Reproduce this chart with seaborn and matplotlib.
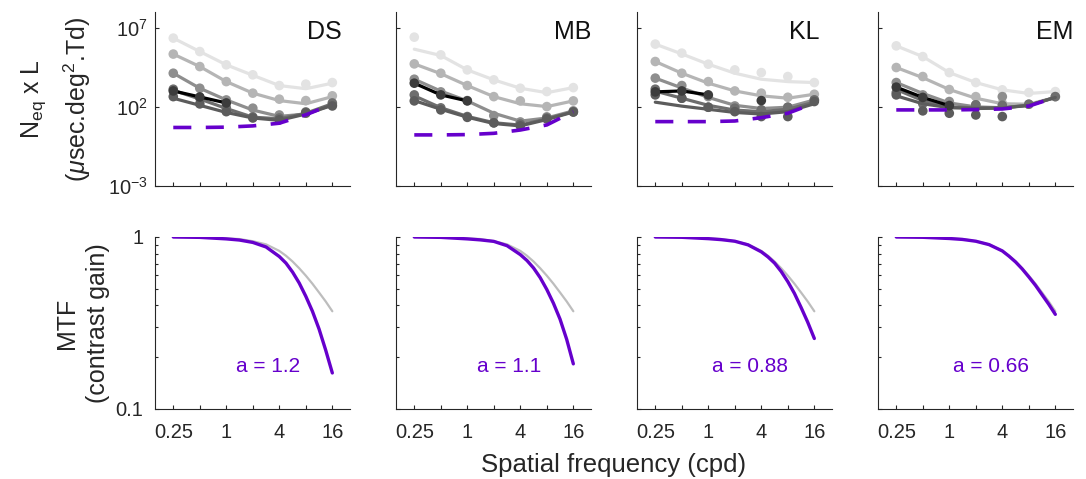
import numpy as np
import matplotlib
matplotlib.use("Agg")
import matplotlib.pyplot as plt
import seaborn as sns
from matplotlib.ticker import FixedLocator, FixedFormatter, NullFormatter, LogLocator, NullLocator

# ---------------- data (log10 of Neq x L) ----------------
subjects = ["DS", "MB", "KL", "EM"]
freqs = [0.25, 0.5, 1, 2, 4, 8, 16]
xtick_labels = ["0.25", "", "1", "", "4", "", "16"]
nan = np.nan

ds_pts = [[6.35, 5.50, 4.66, 4.03, 3.35, 3.44, 3.54],
          [5.34, 4.55, 3.60, 2.87, 2.49, 2.40, 2.70],
          [4.13, 3.18, 2.44, 1.92, 1.49, 1.60, 2.13],
          [3.12, 2.57, 1.94, 1.37, 1.30, 1.68, 2.25],
          [2.65, 2.19, 1.70, 1.30, 1.18, 1.62, 2.06]]
ds_fit = [[6.35, 5.50, 4.66, 4.00, 3.35, 3.15, 3.50],
          [5.34, 4.55, 3.60, 2.87, 2.40, 2.20, 2.65],
          [4.13, 3.18, 2.44, 1.80, 1.40, 1.55, 2.13],
          [3.05, 2.50, 1.90, 1.35, 1.25, 1.60, 2.20],
          [2.55, 2.10, 1.65, 1.30, 1.15, 1.55, 2.10]]
ds_black_pts = [3.01, 2.63, 2.25, nan, nan, nan, nan]
ds_black_fit = [3.01, 2.63, 2.25]
ds_ideal = [0.70, 0.70, 0.72, 0.80, 0.97, 1.50, 2.17]

mb_pts = [[6.41, 5.29, 4.34, 3.71, 3.18, 2.97, 3.22],
          [4.72, 4.13, 3.35, 2.65, 2.38, 2.02, 2.38],
          [3.75, 2.95, 2.40, 1.45, 1.05, 1.37, 1.75],
          [2.76, 1.94, 1.39, 1.00, 0.92, 1.30, 1.68],
          [2.38, 1.81, 1.34, 0.99, 0.80, 1.24, 1.68]]
mb_fit = [[5.65, 5.25, 4.34, 3.71, 3.18, 2.90, 3.22],
          [4.72, 4.10, 3.35, 2.65, 2.20, 2.02, 2.38],
          [3.75, 3.00, 2.38, 1.60, 1.10, 1.30, 1.75],
          [2.70, 1.95, 1.40, 1.00, 0.85, 1.25, 1.70],
          [2.40, 1.85, 1.35, 0.95, 0.80, 1.20, 1.68]]
mb_black_pts = [3.50, 2.76, 2.38, nan, nan, nan, nan]
mb_black_fit = [3.50, 2.76, 2.38]
mb_ideal = [0.23, 0.23, 0.25, 0.33, 0.54, 0.86, 1.70]

kl_pts = [[5.97, 5.40, 4.70, 4.34, 4.17, 3.92, 3.54],
          [4.87, 4.13, 3.60, 3.01, 2.87, 2.61, 2.80],
          [3.82, 3.35, 2.65, 2.06, 1.81, 1.98, 2.44],
          [3.12, 2.55, 1.98, 1.92, 1.81, 1.98, 2.44],
          [2.76, 2.55, 1.98, 1.70, 1.39, 1.39, 2.34]]
kl_fit = [[5.97, 5.35, 4.70, 4.13, 3.75, 3.60, 3.54],
          [4.87, 4.13, 3.50, 3.01, 2.70, 2.55, 2.80],
          [3.82, 3.20, 2.60, 2.10, 1.90, 1.98, 2.44],
          [3.00, 2.55, 2.10, 1.80, 1.70, 1.85, 2.30],
          [2.30, 2.05, 1.85, 1.65, 1.55, 1.70, 2.20]]
kl_black_pts = [2.95, 3.01, 2.76, nan, 2.40, nan, nan]
kl_black_fit = [2.95, 3.01, 2.76]
kl_ideal = [1.07, 1.07, 1.07, 1.11, 1.32, 1.60, 2.23]

em_pts = [[5.86, 5.18, 4.17, 3.54, 3.08, 2.91, 2.97],
          [4.49, 3.92, 3.10, 2.65, 2.23, 2.17, 2.65],
          [3.54, 2.76, 2.34, 2.13, 2.65, nan, nan],
          [2.90, 2.20, 2.10, 2.13, 2.10, 2.17, 2.65],
          [2.76, 1.75, 1.60, 1.49, 1.39, nan, nan]]
em_fit = [[5.86, 5.18, 4.17, 3.54, 3.08, 2.85, 2.97],
          [4.49, 3.85, 3.10, 2.55, 2.20, 2.17, 2.60],
          [3.54, 2.85, 2.25, 2.00, 1.95, 2.10, 2.60],
          [3.10, 2.40, 2.00, 1.95, 1.95, 2.10, 2.60],
          [2.70, 2.20, 1.95, 1.90, 1.92, 2.10, 2.60]]
em_black_pts = [3.25, 2.60, 2.08, nan, nan, nan, nan]
em_black_fit = [3.25, 2.60, 2.08]
em_ideal = [1.81, 1.81, 1.81, 1.83, 1.87, 2.05, 2.60]

# ---------------- MTF data ----------------
mtf_freq = [0.25, 0.5, 1, 1.41, 2, 2.83, 4, 4.76, 5.66, 6.73, 8, 9.51, 11.3, 13.45, 16]
mtf_ref = [1.0, 0.997, 0.982, 0.973, 0.945, 0.906, 0.83, 0.778, 0.72, 0.658, 0.596, 0.535, 0.476, 0.422, 0.37]
ds_mtf = [1.0, 0.995, 0.975, 0.96, 0.93, 0.875, 0.77, 0.705, 0.625, 0.54, 0.452, 0.37, 0.292, 0.22, 0.162]
mb_mtf = [1.0, 0.995, 0.975, 0.962, 0.943, 0.89, 0.79, 0.73, 0.66, 0.58, 0.495, 0.412, 0.333, 0.254, 0.183]
kl_mtf = [1.0, 0.996, 0.978, 0.965, 0.945, 0.90, 0.82, 0.766, 0.705, 0.63, 0.55, 0.47, 0.39, 0.32, 0.257]
em_mtf = [1.0, 0.996, 0.98, 0.968, 0.945, 0.903, 0.83, 0.774, 0.716, 0.652, 0.586, 0.524, 0.462, 0.407, 0.355]
a_labels = ["a = 1.2", "a = 1.1", "a = 0.88", "a = 0.66"]

all_pts = [ds_pts, mb_pts, kl_pts, em_pts]
all_fit = [ds_fit, mb_fit, kl_fit, em_fit]
all_black_pts = [ds_black_pts, mb_black_pts, kl_black_pts, em_black_pts]
all_black_fit = [ds_black_fit, mb_black_fit, kl_black_fit, em_black_fit]
all_ideal = [ds_ideal, mb_ideal, kl_ideal, em_ideal]
all_mtf = [ds_mtf, mb_mtf, kl_mtf, em_mtf]

# ---------------- style ----------------
sns.set_theme(style="ticks")
plt.rcParams["font.family"] = ["Liberation Sans", "DejaVu Sans"]
plt.rcParams["mathtext.fontset"] = "custom"
plt.rcParams["mathtext.rm"] = "Liberation Sans"
plt.rcParams["mathtext.it"] = "Liberation Sans:italic"
plt.rcParams["mathtext.bf"] = "Liberation Sans:bold"

TXT = "#262626"
PURPLE = "#6600CC"
grays = ["#e3e3e3", "#b5b5b5", "#8e8e8e", "#6e6e6e", "#5c5c5c"]
REFGRAY = "#bdbdbd"

W, H = 1086, 479
fig = plt.figure(figsize=(W / 100, H / 100), dpi=100)
lefts = [155, 396, 637, 878]
aw = 195
title_x = [0.87, 0.905, 0.86, 0.905]

def style_axis(ax):
    sns.despine(ax=ax)
    for s in ["left", "bottom"]:
        ax.spines[s].set_color(TXT)
        ax.spines[s].set_linewidth(0.8)
    ax.tick_params(which="both", direction="in", colors=TXT, labelcolor=TXT,
                   width=0.8)
    ax.tick_params(which="major", length=3)
    ax.tick_params(which="minor", length=2)
    ax.set_xscale("log")
    ax.set_xlim(0.155, 25.4)
    ax.xaxis.set_major_locator(FixedLocator(freqs))
    ax.xaxis.set_minor_locator(NullLocator())

for k, subj in enumerate(subjects):
    # ---------- top row ----------
    ax = fig.add_axes([lefts[k] / W, 1 - 186 / H, aw / W, 174 / H])
    ax.set_yscale("log")
    style_axis(ax)
    for i in range(5):
        sns.lineplot(x=freqs, y=10 ** np.array(all_fit[k][i]), color=grays[i],
                     lw=2.3, ax=ax, estimator=None, sort=False, zorder=2 + i)
        sns.scatterplot(x=freqs, y=10 ** np.array(all_pts[k][i]), color=grays[i],
                        s=48, edgecolor="none", linewidth=0, ax=ax, zorder=2 + i)
    sns.lineplot(x=freqs[:3], y=10 ** np.array(all_black_fit[k]), color="black",
                 lw=2.3, ax=ax, estimator=None, sort=False, zorder=8)
    sns.scatterplot(x=freqs, y=10 ** np.array(all_black_pts[k]), color="#3c3c3c",
                    s=48, edgecolor="none", linewidth=0, ax=ax, zorder=8)
    sns.lineplot(x=freqs, y=10 ** np.array(all_ideal[k]), color=PURPLE, lw=2.6,
                 linestyle=(0, (5, 4)), ax=ax, estimator=None, sort=False, zorder=10)
    ax.set_ylim(1e-3, 1e8)
    ax.yaxis.set_major_locator(FixedLocator([1e-3, 1e2, 1e7]))
    ax.yaxis.set_minor_locator(NullLocator())
    ax.xaxis.set_major_formatter(NullFormatter())
    ax.tick_params(axis="y", pad=5, labelsize=14.5)
    if k == 0:
        ax.yaxis.set_major_formatter(FixedFormatter([r"$10^{-3}$", r"$10^{2}$", r"$10^{7}$"]))
        ax.set_ylabel("N$_{\\mathrm{eq}}$ x L\n($\\mu$sec.deg$^{2}$.Td)",
                      fontsize=18, color=TXT, linespacing=1.55)
        ax.yaxis.set_label_coords(-0.318, 0.5)
    else:
        ax.yaxis.set_major_formatter(NullFormatter())
    ax.set_xlabel("")
    ax.text(title_x[k], 0.885, subj, transform=ax.transAxes, ha="center",
            va="center", fontsize=18, color="#111111")

    # ---------- bottom row ----------
    bx = fig.add_axes([lefts[k] / W, 1 - 409 / H, aw / W, 172 / H])
    bx.set_yscale("log")
    style_axis(bx)
    sns.lineplot(x=mtf_freq, y=mtf_ref, color=REFGRAY, lw=1.6, ax=bx,
                 estimator=None, sort=False, zorder=3)
    sns.lineplot(x=mtf_freq, y=all_mtf[k], color=PURPLE, lw=2.4, ax=bx,
                 estimator=None, sort=False, zorder=4)
    bx.set_ylim(0.1, 1)
    bx.yaxis.set_major_locator(FixedLocator([0.1, 1]))
    bx.yaxis.set_minor_locator(LogLocator(base=10, subs=np.arange(2, 10)))
    bx.yaxis.set_minor_formatter(NullFormatter())
    bx.xaxis.set_major_formatter(FixedFormatter(xtick_labels))
    bx.tick_params(axis="x", pad=10, labelsize=14.5)
    bx.tick_params(axis="y", pad=8.5, labelsize=14.5)
    if k == 0:
        bx.yaxis.set_major_formatter(FixedFormatter(["0.1", "1"]))
        bx.set_ylabel("MTF\n(contrast gain)", fontsize=18, color=TXT, linespacing=1.35)
        bx.yaxis.set_label_coords(-0.231, 0.5)
    else:
        bx.yaxis.set_major_formatter(NullFormatter())
    bx.set_xlabel("")
    bx.text(0.58, 0.25, a_labels[k], transform=bx.transAxes, ha="center",
            va="center", fontsize=15, color=PURPLE)

fig.text(614 / W, 1 - 471.7 / H, "Spatial frequency (cpd)", ha="center",
         va="baseline", fontsize=18.5, color=TXT)

fig.savefig("out.png", dpi=100)
